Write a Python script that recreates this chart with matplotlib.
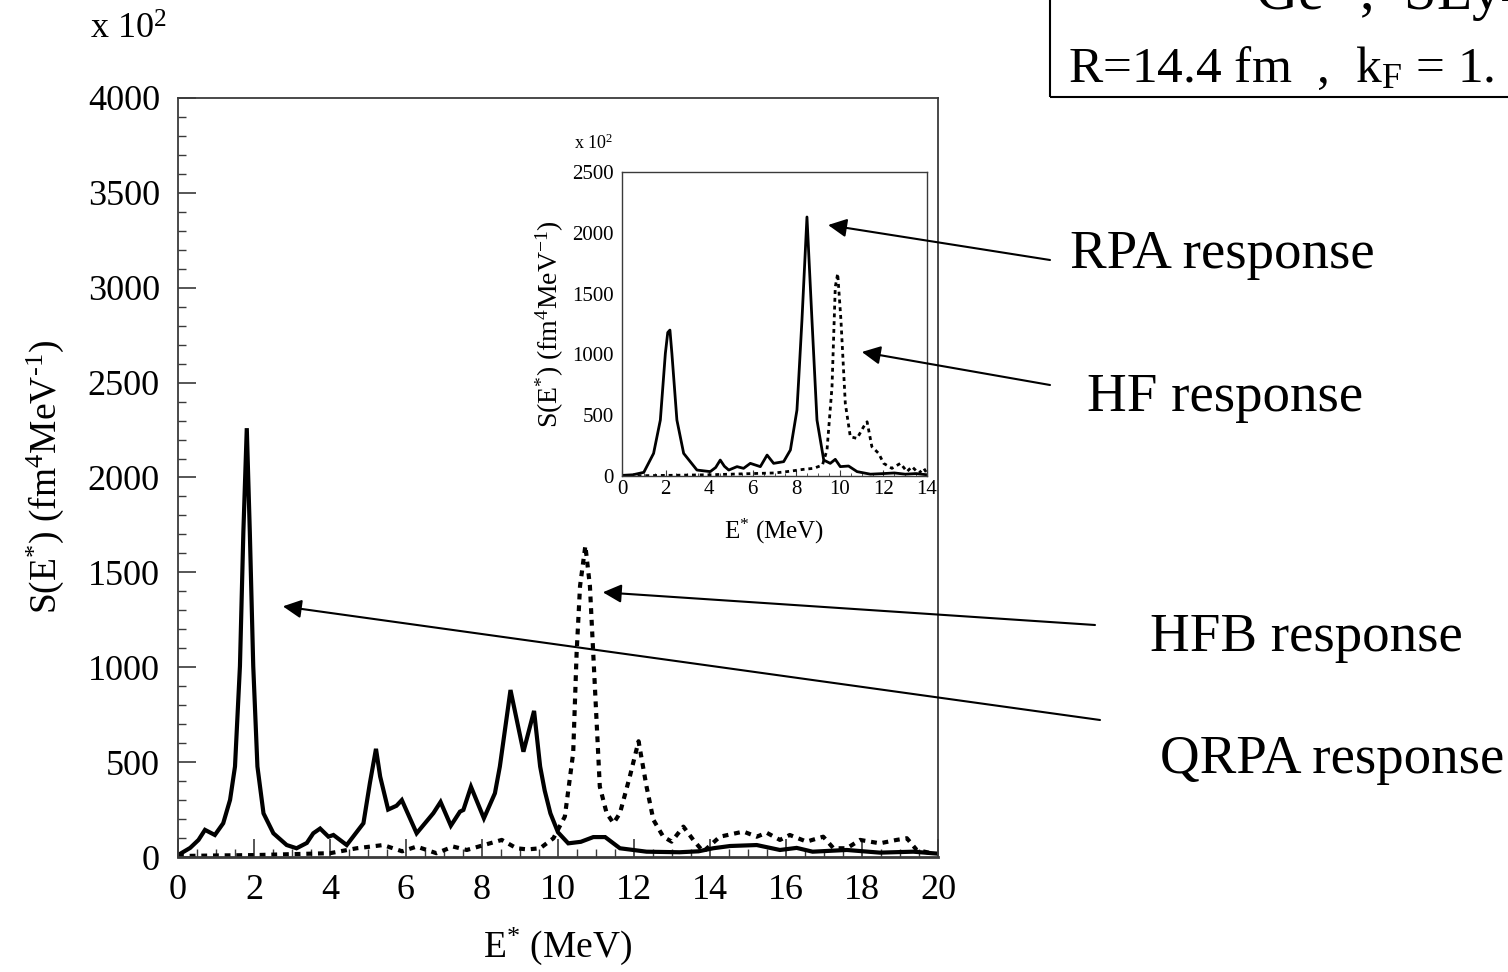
import matplotlib
matplotlib.use("Agg")
import matplotlib.pyplot as plt
from matplotlib.ticker import MultipleLocator
from matplotlib.patches import Rectangle

plt.rcParams['font.family'] = ['Liberation Serif', 'DejaVu Serif']
plt.rcParams['mathtext.fontset'] = 'custom'
plt.rcParams['mathtext.rm'] = 'Liberation Serif'
plt.rcParams['mathtext.it'] = 'Liberation Serif:italic'
plt.rcParams['mathtext.bf'] = 'Liberation Serif:bold'

# QRPA response (solid) and HFB response (dotted), main panel
qrpa_E = [0, 0.32, 0.54, 0.71, 0.97, 1.19, 1.37, 1.5, 1.63, 1.72, 1.81, 1.89, 1.98, 2.09,
          2.25, 2.51, 2.86, 3.12, 3.39, 3.56, 3.74, 3.96, 4.09, 4.44, 4.88, 5.05, 5.21,
          5.32, 5.53, 5.75, 5.89, 6.28, 6.72, 6.91, 7.18, 7.42, 7.51, 7.71, 8.05, 8.34,
          8.47, 8.75, 9.09, 9.37, 9.53, 9.65, 9.8, 10.0, 10.27, 10.6, 10.93, 11.24, 11.63,
          12.33, 13.2, 13.7, 14.08, 14.53, 15.23, 15.84, 16.28, 16.7, 17.6, 18.47, 19.35, 19.97]
qrpa_S = [10, 48, 90, 143, 116, 178, 301, 477, 1006, 1712, 2260, 1712, 1006, 477,
          230, 125, 63, 46, 74, 125, 150, 107, 116, 63, 178, 390, 570,
          424, 250, 270, 300, 125, 231, 290, 165, 239, 248, 370, 204, 336,
          477, 880, 555, 770, 477, 350, 230, 130, 72, 80, 105, 105, 46,
          28, 25, 30, 46, 58, 63, 37, 48, 28, 37, 23, 28, 18]

hfb_E = [0, 1, 2, 3, 4, 4.7, 5.4, 5.9, 6.28, 6.8, 7.24, 7.6, 8.05, 8.52, 8.91, 9.2, 9.53,
         9.88, 10.18, 10.4, 10.49, 10.58, 10.72, 10.84, 10.97, 11.1, 11.28, 11.46, 11.63,
         11.89, 12.12, 12.33, 12.51, 12.77, 12.99, 13.3, 13.56, 13.82, 14.26, 14.88, 15.23,
         15.49, 15.84, 16.1, 16.54, 16.98, 17.25, 17.6, 17.95, 18.47, 18.91, 19.18, 19.44, 19.87]
hfb_S = [5, 8, 10, 15, 20, 46, 63, 30, 55, 20, 55, 37, 63, 90, 46, 40, 46,
         99, 213, 549, 1076, 1428, 1640, 1428, 900, 371, 231, 178, 231,
         424, 610, 371, 196, 107, 81, 160, 90, 28, 107, 134, 107,
         128, 90, 116, 81, 107, 46, 46, 90, 72, 90, 99, 37, 18]

# RPA response (solid) and HF response (dotted), inset panel
rpa_E = [0, 0.5, 1.0, 1.45, 1.76, 1.99, 2.1, 2.2, 2.29, 2.52, 2.83, 3.44, 4.05, 4.3, 4.51,
         4.7, 4.9, 5.28, 5.58, 5.89, 6.35, 6.66, 6.96, 7.42, 7.73, 8.03, 8.1, 8.26, 8.49,
         8.72, 8.95, 9.26, 9.56, 9.79, 10.02, 10.4, 10.79, 11.4, 12.0, 12.5, 13.0, 13.5, 14.0]
rpa_S = [5, 10, 30, 186, 460, 1008, 1180, 1200, 1008, 460, 186, 49, 36, 70, 131,
         80, 49, 77, 63, 104, 77, 172, 104, 118, 214, 542, 761, 1281, 2130,
         1281, 460, 131, 104, 137, 77, 82, 36, 15, 20, 25, 15, 20, 10]

hf_E = [0, 2, 4, 5, 6, 7, 7.57, 8.34, 8.8, 9.2, 9.41, 9.64, 9.79, 9.9, 10.05, 10.25, 10.48,
        10.79, 11.09, 11.25, 11.47, 11.78, 12.01, 12.39, 12.78, 13.08, 13.31, 13.62, 13.85, 14.0]
hf_S = [0, 5, 10, 15, 20, 25, 36, 55, 63, 90, 214, 734, 1555, 1665, 1281, 597, 323,
        309, 405, 446, 241, 186, 104, 63, 104, 36, 77, 22, 63, 22]

main_xticks = [0, 2, 4, 6, 8, 10, 12, 14, 16, 18, 20]
main_yticks = [0, 500, 1000, 1500, 2000, 2500, 3000, 3500, 4000]
inset_xticks = [0, 2, 4, 6, 8, 10, 12, 14]
inset_yticks = [0, 500, 1000, 1500, 2000, 2500]

W, H = 1508, 972
fig = plt.figure(figsize=(W / 100, H / 100), dpi=100)
fig.patch.set_facecolor('white')

def frac(px, py):
    return px / W, 1 - py / H

spine_col = '#3a3a3a'

# ---- main panel ----
ax = fig.add_axes([178 / W, 1 - 857 / H, (938 - 178) / W, (857 - 98) / H])
ax.plot(qrpa_E, qrpa_S, color='black', lw=3.0, solid_joinstyle='miter')
ax.plot(hfb_E, hfb_S, color='black', lw=3.0, linestyle=(0, (1.4, 1.4)))
ax.set_xlim(0, 20)
ax.set_ylim(0, 4000)
ax.set_xticks(main_xticks)
ax.set_yticks(main_yticks)
ax.xaxis.set_minor_locator(MultipleLocator(0.5))
ax.yaxis.set_minor_locator(MultipleLocator(100))
ax.tick_params(which='both', direction='in', top=False, right=False, color=spine_col,
               labelsize=26)
ax.tick_params(which='major', length=13, width=1.2)
ax.tick_params(axis='x', which='major', pad=12)
ax.tick_params(axis='y', which='major', pad=13)
ax.tick_params(which='minor', length=6, width=1.0)
for s in ax.spines.values():
    s.set_color(spine_col)
    s.set_linewidth(1.3)
ax.spines['bottom'].set_linewidth(2.0)
ax.set_xlabel('E$^{*}$ (MeV)', fontsize=27, labelpad=14)
ax.set_ylabel('S(E$^{*}$) (fm$^{4}$MeV$^{\\text{-}1}$)', fontsize=27, labelpad=16)
fig.text(*frac(90, 30), 'x 10$^{2}$', fontsize=26, ha='left', va='center')

# ---- inset panel ----
ins = fig.add_axes([622 / W, 1 - 476 / H, (927 - 622) / W, (476 - 172) / H])
ins.plot(rpa_E, rpa_S, color='black', lw=2.0)
ins.plot(hf_E, hf_S, color='black', lw=2.0, linestyle=(0, (1.4, 1.4)))
ins.set_xlim(0, 14)
ins.set_ylim(0, 2500)
ins.set_xticks(inset_xticks)
ins.set_yticks(inset_yticks)
ins.xaxis.set_minor_locator(MultipleLocator(0.5))
ins.tick_params(which='both', direction='in', top=False, right=False, color=spine_col,
                labelsize=15, pad=3)
ins.tick_params(which='major', length=4, width=0.8)
ins.tick_params(which='minor', length=2, width=0.6)
ins.tick_params(axis='y', which='major', length=0, pad=6)
for s in ins.spines.values():
    s.set_color(spine_col)
    s.set_linewidth(1.0)
ins.set_xlabel('E$^{*}$ (MeV)', fontsize=18, labelpad=13)
ins.set_ylabel('S(E$^{*}$) (fm$^{4}$MeV$^{-1}$)', fontsize=20, labelpad=4)
fig.text(*frac(574, 143), 'x 10$^{2}$', fontsize=13, ha='left', va='center')

# ---- header box ----
fig.patches.append(Rectangle(frac(1050, 97), 600 / W, 200 / H, transform=fig.transFigure,
                             fill=False, edgecolor='black', lw=1.5))
fig.text(*frac(1068, 82), 'R=14.4 fm  ,  k$_{\\mathrm{F}}$ = 1.', fontsize=37,
         ha='left', va='baseline')
fig.text(*frac(1255, 10), 'Ge$^{*}$ ,  SLy4', fontsize=42, ha='left', va='baseline')

# ---- annotations ----
labels = [
    ('RPA response', (1070, 255), ins, (9.46, 2064), (1050, 260)),
    ('HF response', (1087, 398), ins, (11.01, 1020), (1050, 385)),
    ('HFB response', (1150, 638), ax, (11.18, 1395), (1095, 625)),
    ('QRPA response', (1160, 760), ax, (2.76, 1321), (1100, 720)),
]
for text, tpos, target_ax, tip, tail in labels:
    fig.text(*frac(*tpos), text, fontsize=39.5, ha='left', va='center')
    target_ax.annotate('', xy=tip, xycoords='data', xytext=frac(*tail),
                       textcoords='figure fraction', annotation_clip=False,
                       arrowprops=dict(arrowstyle='-|>', color='black', lw=1.5,
                                       mutation_scale=28, shrinkA=0, shrinkB=0))

fig.savefig('out.png', dpi=100, facecolor='white')
